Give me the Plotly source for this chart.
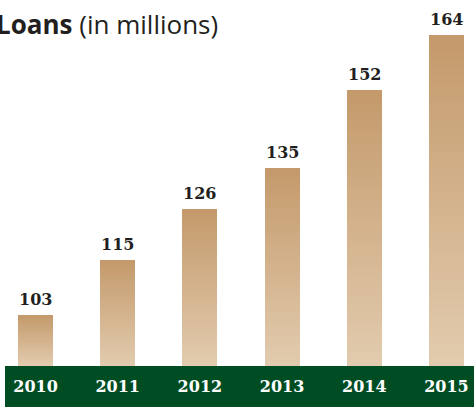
import plotly.graph_objects as go

years = ["2010", "2011", "2012", "2013", "2014", "2015"]
loans = [103, 115, 126, 135, 152, 164]
value_labels = ["103", "115", "126", "135", "152", "164"]

BASE = 91.9
N = 40
dark = (196, 154, 108)
light = (226, 203, 174)

def mix(t):
    return "rgb(%d,%d,%d)" % tuple(round(dark[i] + (light[i] - dark[i]) * t) for i in range(3))

fig = go.Figure()
for k in range(N):
    frac = (N - k) / N
    fig.add_trace(go.Bar(
        x=years,
        y=[(v - BASE) * frac for v in loans],
        base=[BASE] * len(loans),
        width=0.426,
        marker=dict(color=mix(k / (N - 1)), line=dict(width=0)),
        hoverinfo="skip",
        showlegend=False,
    ))

for i, (v, lab) in enumerate(zip(loans, value_labels)):
    fig.add_annotation(
        x=i, y=v, text="<b>%s</b>" % lab, showarrow=False,
        xanchor="center", yanchor="bottom", yshift=4,
        font=dict(family="DejaVu Serif", size=16, color="#231f20"),
    )

fig.add_annotation(
    xref="paper", yref="paper", x=0, y=1, xshift=-6, yshift=-4,
    xanchor="left", yanchor="top", showarrow=False,
    text="<b>Loans</b> (in millions)",
    font=dict(family="Open Sans", size=26, color="#231f20"),
)

fig.add_shape(
    type="rect", xref="paper", yref="paper",
    x0=5 / 474, x1=1, y0=-41 / 366, y1=0,
    fillcolor="#004d24", line=dict(width=0), layer="below",
)

fig.update_layout(
    width=474, height=407,
    margin=dict(l=0, r=0, t=0, b=41),
    barmode="overlay",
    bargap=0,
    plot_bgcolor="white", paper_bgcolor="white",
    xaxis=dict(
        type="category", range=[-0.432, 5.335],
        showgrid=False, zeroline=False, showline=False, ticks="",
        tickfont=dict(family="DejaVu Serif", size=16, color="white", weight="bold"),
        ticklabelstandoff=9,
    ),
    yaxis=dict(
        range=[BASE, 171.6], visible=False, showgrid=False, zeroline=False,
    ),
)

fig.write_html("out.html", config={"displayModeBar": False},
               post_script="document.body.style.margin='0';")
